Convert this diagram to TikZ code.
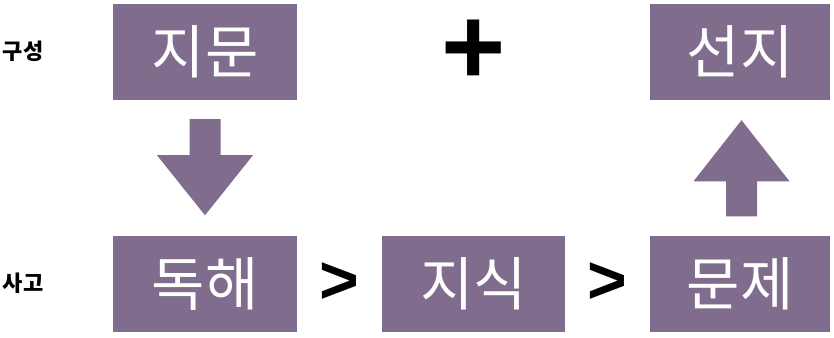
\documentclass[tikz,border=0pt]{standalone}
\usepackage{fontspec}
\setmainfont{Liberation Sans}
\newfontfamily\cjk{Noto Sans CJK KR}
\usetikzlibrary{calc}

\definecolor{boxpurple}{RGB}{128,109,142}

\tikzset{
  box/.style={fill=boxpurple, text=white, minimum width=184pt, minimum height=96pt,
    inner sep=0pt, font=\cjk\fontsize{58}{60}\selectfont},
  rowlabel/.style={font=\cjk\bfseries\fontsize{22}{24}\selectfont},
  sign/.style={inner sep=0pt, font=\bfseries\fontsize{68}{68}\selectfont}
}

\begin{document}
\begin{tikzpicture}[x=1pt,y=-1pt]
        \useasboundingbox (0,0) rectangle (834,337);
        % row labels
        \node[rowlabel] (gusung) at (23,51) {구성};
        \node[rowlabel] (sago) at (23,283) {사고};
        % boxes
        \node[box] (jimun) at (205,52) {지문};
        \node[box, minimum width=180pt] (seonji) at (740,52) {선지};
        \node[box] (dokhae) at (205,283.5) {독해};
        \node[box, minimum width=183pt] (jisik) at (473.5,283.5) {지식};
        \node[box, minimum width=180pt] (munje) at (740,283.5) {문제};
        % signs
        \node[sign, font=\bfseries\fontsize{110}{110}\selectfont] (plus) at ($(jimun.east)!0.5!(seonji.west)$) {+};
        \node[sign] (gt1) at ($(dokhae.east)!0.5!(jisik.west)$) {>};
        \node[sign] (gt2) at ($(jisik.east)!0.5!(munje.west)$) {>};
        % block arrows
        \fill[boxpurple] ($(jimun.south)+(-15.5,19)$) -- ++(31,0) -- ++(0,36) -- ++(32.5,0)
            -- ($(dokhae.north)+(0,-20)$) -- ($(jimun.south)+(-48,55)$) -- ++(32.5,0) -- cycle;
        \fill[boxpurple] ($(munje.north)+(-14,-19)$) -- ++(31,0) -- ++(0,-35) -- ++(32.5,0)
            -- ($(seonji.south)+(1.5,20)$) -- ($(munje.north)+(-46.5,-54)$) -- ++(32.5,0) -- cycle;
    \end{tikzpicture}
\end{document}
